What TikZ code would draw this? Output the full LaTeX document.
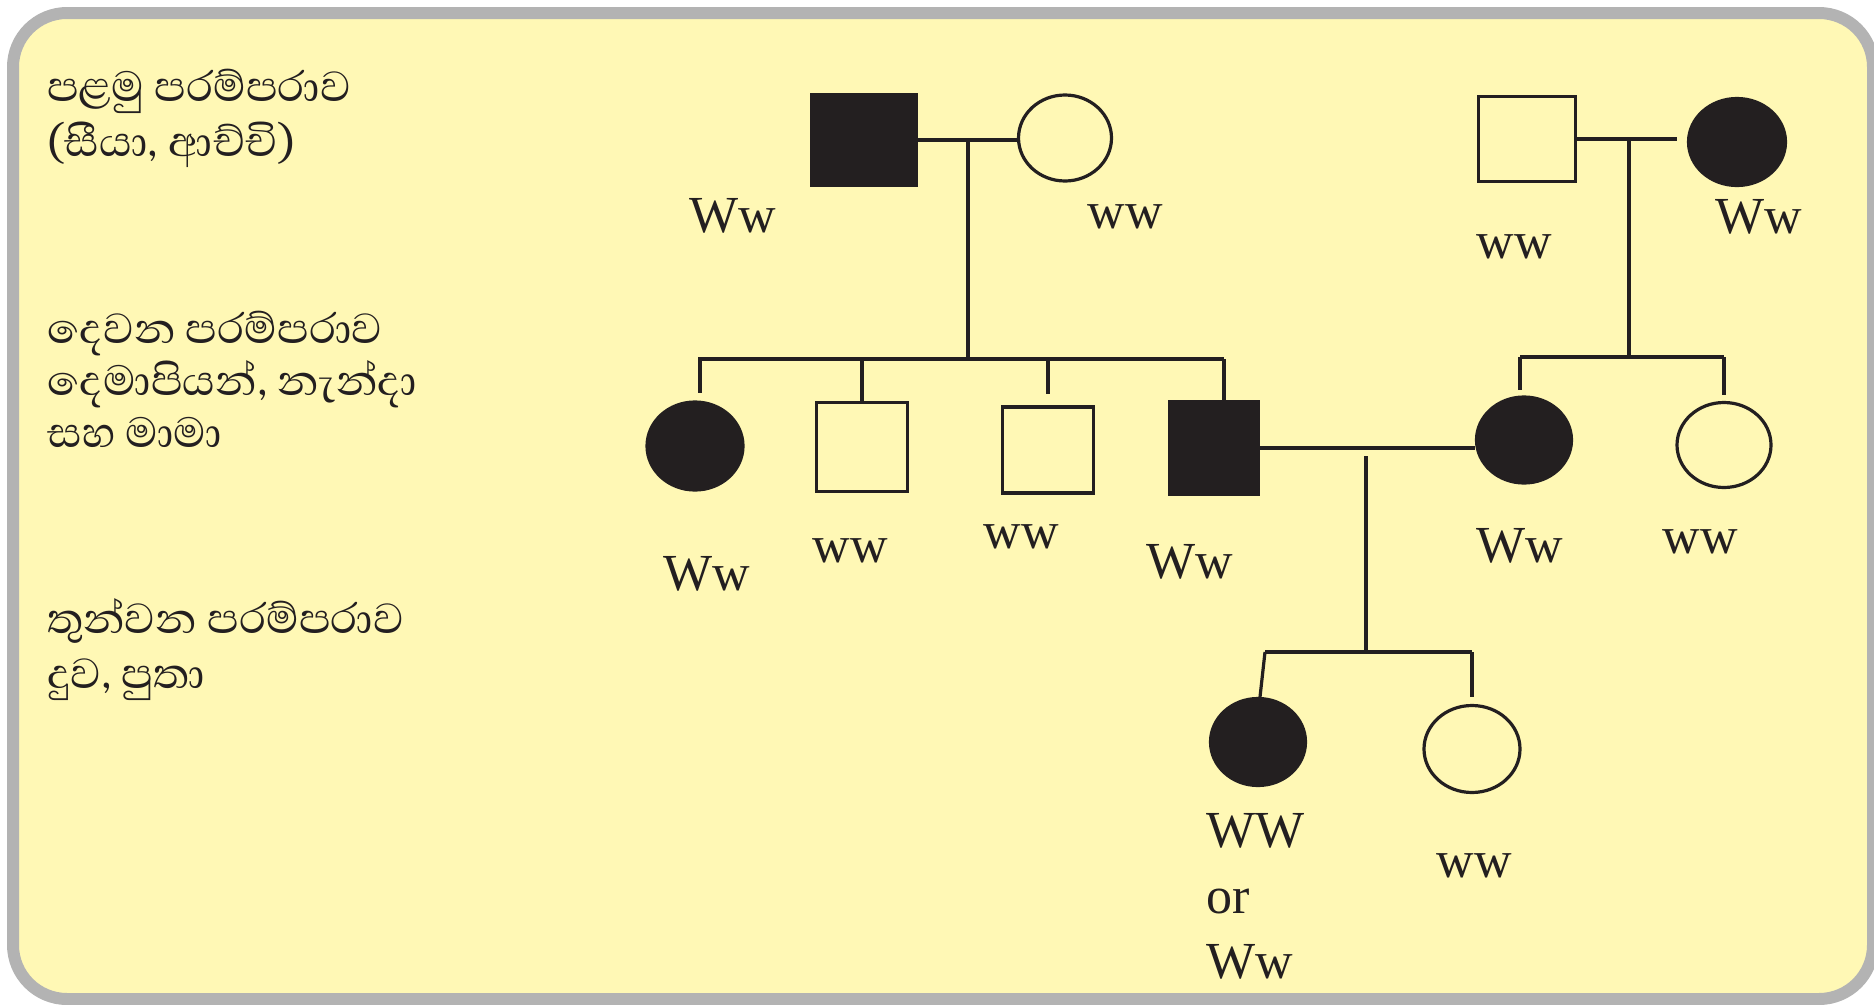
\documentclass[tikz,border=0pt]{standalone}
\usepackage{fontspec}
\setmainfont{Liberation Serif}
\newfontfamily\sinhalafont[Script=Sinhala]{Abhaya Libre}
\usetikzlibrary{shapes.geometric}
\definecolor{bgyellow}{RGB}{255,248,181}
\definecolor{framegray}{RGB}{179,179,179}
\definecolor{ink}{RGB}{35,31,32}
\begin{document}
\begin{tikzpicture}[x=1pt,y=-1pt,
  conn/.style={draw=ink, line width=3.2pt},
  sq/.style={rectangle, draw=ink, line width=3.2pt, inner sep=0pt},
  el/.style={ellipse, draw=ink, line width=3.2pt, inner sep=0pt},
  aff/.style={fill=ink},
  geno/.style={font=\fontsize{52}{60}\selectfont, text=ink, inner sep=0pt, anchor=base},
  genol/.style={font=\fontsize{52}{60}\selectfont, text=ink, inner sep=0pt, anchor=base west},
  sin/.style={font=\sinhalafont\fontsize{54}{60}\selectfont, text=ink, inner sep=0pt, anchor=base west},
]
\useasboundingbox (0,0) rectangle (1874,1004);
\draw[framegray, line width=12pt, fill=bgyellow, rounded corners=54pt] (13,13) rectangle (1873,999);

% generation labels
\node[sin] (t1) at (47,101) {පළමු පරම්පරාව};
\node[sin] (t2) at (47,156) {(සීයා, ආච්චි)};
\node[sin] (t3) at (47,343) {දෙවන පරම්පරාව};
\node[sin] (t4) at (47,395) {දෙමාපියන්, නැන්දා};
\node[sin] (t5) at (47,447) {සහ මාමා};
\node[sin] (t6) at (47,633) {තුන්වන පරම්පරාව};
\node[sin] (t7) at (47,688) {දුව, පුතා};

% generation 1
\node[sq, aff, minimum width=105pt, minimum height=90pt] (gf1) at (864,140) {};
\node[el, minimum width=93pt, minimum height=86pt] (gm1) at (1065,138) {};
\node[sq, minimum width=97pt, minimum height=85pt] (gf2) at (1527,139) {};
\node[el, aff, minimum width=97pt, minimum height=87pt] (gm2) at (1737,142) {};

% generation 2
\node[el, aff, minimum width=96pt, minimum height=88pt] (a) at (695,446) {};
\node[sq, minimum width=91pt, minimum height=89pt] (b) at (862,447) {};
\node[sq, minimum width=91pt, minimum height=86pt] (c) at (1048,450) {};
\node[sq, aff, minimum width=89pt, minimum height=92pt] (d) at (1214,448) {};
\node[el, aff, minimum width=95pt, minimum height=86pt] (e) at (1524,440) {};
\node[el, minimum width=94pt, minimum height=85pt] (f) at (1724,445) {};

% generation 3
\node[el, aff, minimum width=95pt, minimum height=87pt] (g) at (1258,742) {};
\node[el, minimum width=96pt, minimum height=87pt] (h) at (1472,749) {};

% junction points
\coordinate (m1) at (968,140);
\coordinate (s1) at (968,359);
\coordinate (s1l) at (698,359);
\coordinate (m2) at (1629,141);
\coordinate (s2) at (1629,357);
\coordinate (m3) at (1366,456);
\coordinate (s3) at (1366,652);
\coordinate (s3l) at (1265,652);
\coordinate (s3r) at (1472,652);

% family 1
\draw[conn] (gf1.east) -- (gf1.east -| gm1.west);
\draw[conn] (m1) -- (s1);
\draw[conn] (s1l) -- ([xshift=10pt]d.north |- s1);
\draw[conn, shorten >=7pt] ([xshift=5pt]a.north |- s1) -- ([xshift=5pt]a.north);
\draw[conn] (b.north |- s1) -- (b.north);
\draw[conn, shorten >=11pt] (c.north |- s1) -- (c.north);
\draw[conn] ([xshift=10pt]d.north |- s1) -- ([xshift=10pt]d.north);

% family 2
\draw[conn, shorten >=10pt] (gf2.east) -- (gf2.east -| gm2.west);
\draw[conn] (m2) -- (s2);
\draw[conn] ([xshift=-4pt]e.north |- s2) -- (f.north |- s2);
\draw[conn, shorten >=5pt] ([xshift=-4pt]e.north |- s2) -- ([xshift=-4pt]e.north);
\draw[conn, shorten >=6pt] (f.north |- s2) -- (f.north);

% family 3
\draw[conn] (d.east) -- (d.east -| e.west);
\draw[conn] (m3) -- (s3);
\draw[conn] (s3l) -- (s3r);
\draw[conn] (s3l) -- ([xshift=2pt]g.north);
\draw[conn, shorten >=7pt] (s3r) -- (h.north);

% genotypes
\node[geno] (lgf1) at (733,232) {Ww};
\node[geno] (lgm1) at (1125,228) {ww};
\node[geno] (lgf2) at (1514,258) {ww};
\node[geno] (lgm2) at (1759,233) {Ww};
\node[geno] (la) at (707,590) {Ww};
\node[geno] (lb) at (850,562) {ww};
\node[geno] (lc) at (1021,548) {ww};
\node[geno] (ld) at (1190,578) {Ww};
\node[geno] (le) at (1520,562) {Ww};
\node[geno] (lf) at (1700,553) {ww};
\node[genol] (lg1) at (1206,847) {WW};
\node[genol] (lg2) at (1206,913) {or};
\node[genol] (lg3) at (1206,978) {Ww};
\node[geno] (lh) at (1474,877) {ww};
\end{tikzpicture}
\end{document}
